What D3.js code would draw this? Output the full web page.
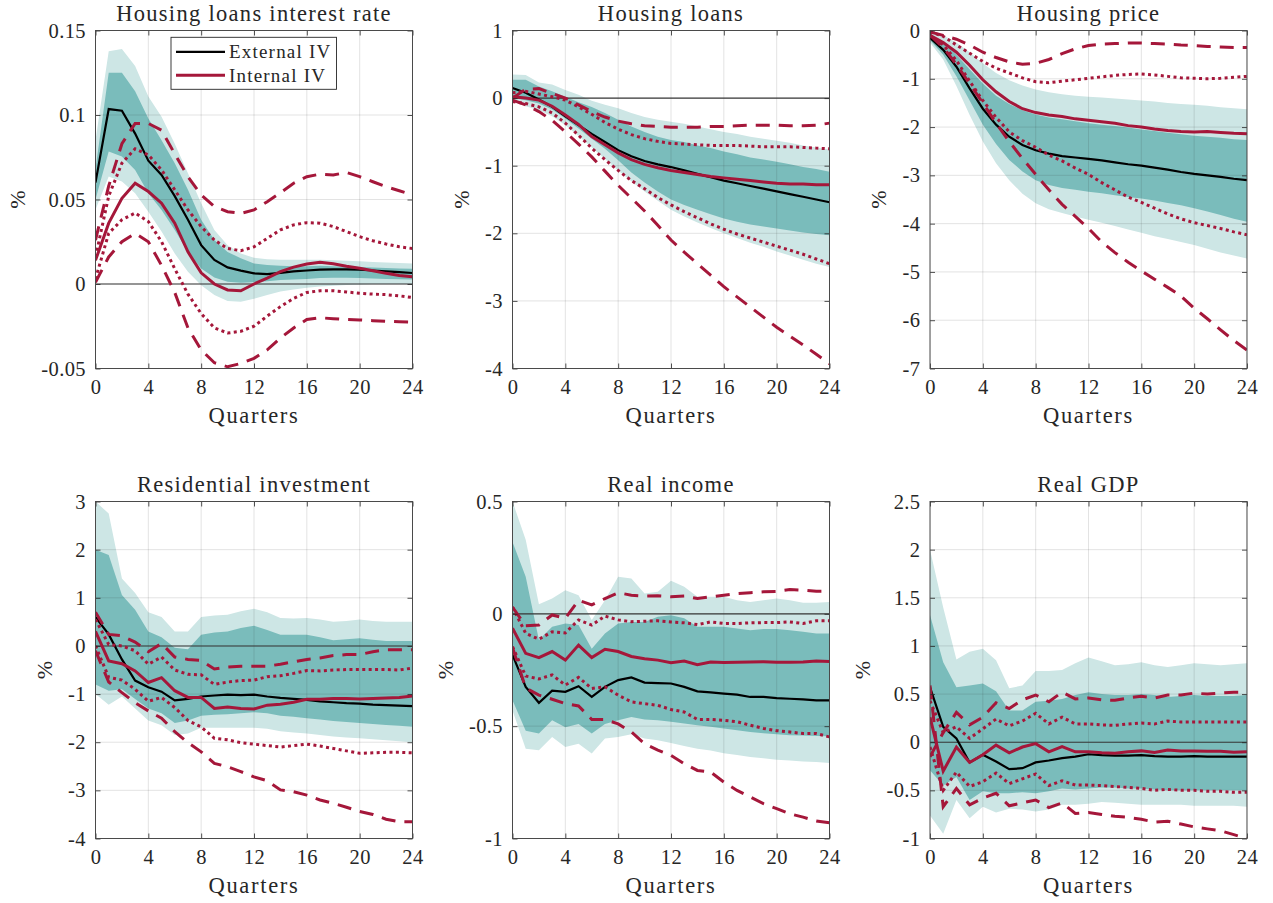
<!doctype html>
<html lang="en">
    <head>
        <meta charset="utf-8">
        <script src="https://d3js.org/d3.v7.min.js"></script>
        <title>External vs internal IV responses</title>
        <style>
            body { margin: 0; background: #fff; }
            text { font-family: "Liberation Serif", "Times New Roman", serif; fill: #262626; }
        </style>
    </head>
    <body>
        <div id="my_dataviz"></div>

        <script>
            // horizon
            var quarters = [0,1,2,3,4,5,6,7,8,9,10,11,12,13,14,15,16,17,18,19,20,21,22,23,24]
            var xTicks = [0,4,8,12,16,20,24]

            // Housing loans interest rate
            var rateExt = [0.060,0.1035,0.1025,0.089,0.073, 0.0645,0.052,0.038,0.023,0.0142, 0.0098,0.0079,0.0063,0.0059,0.0066, 0.0075,0.008,0.0085,0.0087,0.0087, 0.0085,0.008,0.0075,0.007,0.0065]
            var rateInt = [0.014,0.036,0.0507,0.0596,0.0547, 0.0478,0.036,0.019,0.0066,0.0, -0.0035,-0.004,0.0,0.0035,0.0073, 0.010,0.0118,0.0128,0.012,0.0105, 0.0093,0.0078,0.0063,0.005,0.0043]
            var rateDotHi = [0.016,0.052,0.0715,0.080,0.0764, 0.0675,0.0557,0.0438,0.034,0.026, 0.021,0.0197,0.022,0.027,0.032, 0.035,0.0363,0.036,0.034,0.031, 0.028,0.0256,0.0237,0.022,0.021]
            var rateDotLo = [0.003,0.030,0.038,0.042,0.037, 0.025,0.009,-0.006,-0.0175,-0.026, -0.029,-0.028,-0.025,-0.019,-0.0134, -0.0085,-0.005,-0.004,-0.004,-0.0047, -0.0055,-0.006,-0.0063,-0.007,-0.008]
            var rateDashHi = [0.026,0.058,0.083,0.095,0.095, 0.091,0.077,0.0635,0.0527,0.0458, 0.0428,0.0418,0.0438,0.0487,0.054, 0.0596,0.0635,0.065,0.0645,0.066, 0.0635,0.0605,0.0576,0.0552,0.0527]
            var rateDashLo = [0.001,0.016,0.025,0.030,0.025, 0.011,-0.005,-0.026,-0.039,-0.0466, -0.049,-0.047,-0.044,-0.039,-0.032, -0.026,-0.021,-0.020,-0.0205,-0.021, -0.0213,-0.0217,-0.022,-0.0223,-0.0225]
            var rateDarkHi = [0.068,0.125,0.125,0.114,0.098, 0.085,0.0715,0.0557,0.038,0.026, 0.019,0.0152,0.0122,0.0112,0.0108, 0.0105,0.0105,0.0108,0.0105,0.0102, 0.0100,0.0098,0.0095,0.0092,0.009]
            var rateDarkLo = [0.050,0.0784,0.0754,0.0675,0.0537, 0.0438,0.032,0.019,0.0092,0.0039, 0.0013,0.0007,0.001,0.0017,0.0023, 0.0027,0.003,0.0035,0.0037,0.0037, 0.0035,0.0033,0.003,0.0028,0.0027]
            var rateLightHi = [0.085,0.1377,0.139,0.129,0.111, 0.099,0.083,0.0656,0.0478,0.032, 0.023,0.018,0.0156,0.0146,0.0143, 0.0143,0.0143,0.0143,0.014,0.0138, 0.0135,0.013,0.0127,0.0124,0.0122]
            var rateLightLo = [0.044,0.0636,0.0606,0.0537,0.0428, 0.031,0.018,0.0073,-0.0007,-0.0065, -0.010,-0.0105,-0.0088,-0.0065,-0.0045, -0.0032,-0.0022,-0.0015,-0.001,-0.0006, -0.0003,0,0,0,0]

            // Housing loans
            var loansExt = [0.15,0.08,-0.02,-0.13,-0.27, -0.40,-0.53,-0.65,-0.77,-0.86, -0.93,-0.98,-1.02,-1.07,-1.12, -1.17,-1.22,-1.26,-1.30,-1.34, -1.38,-1.42,-1.46,-1.50,-1.54]
            var loansInt = [0.02,0.0,-0.03,-0.12,-0.25, -0.39,-0.57,-0.69,-0.81,-0.91, -0.98,-1.03,-1.07,-1.10,-1.13, -1.16,-1.18,-1.20,-1.22,-1.24, -1.26,-1.27,-1.27,-1.28,-1.28]
            var loansDotHi = [0.08,0.10,0.06,0.02,-0.03, -0.13,-0.24,-0.36,-0.46,-0.54, -0.60,-0.64,-0.67,-0.68,-0.69, -0.70,-0.70,-0.70,-0.71,-0.72, -0.72,-0.72,-0.73,-0.74,-0.75]
            var loansDotLo = [-0.05,-0.08,-0.13,-0.22,-0.37, -0.55,-0.74,-0.91,-1.07,-1.22, -1.34,-1.47,-1.58,-1.68,-1.77, -1.86,-1.94,-2.01,-2.07,-2.13, -2.19,-2.25,-2.31,-2.38,-2.45]
            var loansDashHi = [0.0,0.13,0.14,0.07,0.0, -0.10,-0.20,-0.28,-0.34,-0.38, -0.41,-0.42,-0.43,-0.43,-0.43, -0.42,-0.42,-0.41,-0.40,-0.40, -0.40,-0.41,-0.41,-0.40,-0.37]
            var loansDashLo = [-0.03,-0.10,-0.20,-0.33,-0.50, -0.68,-0.87,-1.08,-1.29,-1.48, -1.67,-1.88,-2.10,-2.28,-2.45, -2.62,-2.79,-2.94,-3.09,-3.24, -3.39,-3.52,-3.65,-3.79,-3.93]
            var loansDarkHi = [0.27,0.27,0.17,0.10,0.02, -0.06,-0.13,-0.22,-0.32,-0.42, -0.50,-0.57,-0.62,-0.65,-0.70, -0.74,-0.79,-0.83,-0.88,-0.91, -0.94,-0.98,-1.02,-1.05,-1.09]
            var loansDarkLo = [0.0,-0.03,-0.08,-0.17,-0.30, -0.45,-0.60,-0.75,-0.92,-1.10, -1.25,-1.38,-1.50,-1.58,-1.65, -1.72,-1.78,-1.83,-1.87,-1.90, -1.93,-1.96,-1.99,-2.01,-2.03]
            var loansLightHi = [0.35,0.34,0.23,0.20,0.12, 0.05,-0.04,-0.10,-0.15,-0.22, -0.28,-0.32,-0.35,-0.38,-0.42, -0.46,-0.50,-0.53,-0.57,-0.60, -0.63,-0.66,-0.70,-0.73,-0.76]
            var loansLightLo = [-0.05,-0.12,-0.18,-0.27,-0.40, -0.56,-0.73,-0.90,-1.07,-1.23, -1.38,-1.52,-1.65,-1.75,-1.84, -1.92,-2.00,-2.07,-2.14,-2.20, -2.27,-2.33,-2.39,-2.45,-2.50]

            // Housing price
            var priceExt = [-0.15,-0.40,-0.75,-1.20,-1.62, -1.95,-2.20,-2.37,-2.48,-2.55, -2.60,-2.63,-2.66,-2.69,-2.73, -2.77,-2.80,-2.84,-2.88,-2.93, -2.97,-3.00,-3.03,-3.07,-3.10]
            var priceInt = [-0.10,-0.25,-0.45,-0.72,-1.02, -1.27,-1.47,-1.62,-1.70,-1.75, -1.78,-1.83,-1.86,-1.89,-1.92, -1.97,-2.00,-2.04,-2.07,-2.09, -2.10,-2.09,-2.11,-2.13,-2.14]
            var priceDotHi = [-0.03,-0.12,-0.30,-0.47,-0.64, -0.78,-0.88,-0.98,-1.06,-1.08, -1.05,-1.02,-0.99,-0.96,-0.93, -0.91,-0.90,-0.92,-0.95,-0.98, -0.99,-1.00,-0.99,-0.97,-0.95]
            var priceDotLo = [-0.10,-0.30,-0.62,-1.05,-1.45, -1.80,-2.10,-2.28,-2.42,-2.58, -2.70,-2.85,-2.98,-3.15,-3.30, -3.45,-3.56,-3.68,-3.80,-3.90, -3.98,-4.04,-4.10,-4.17,-4.23]
            var priceDashHi = [-0.03,-0.10,-0.18,-0.30,-0.45, -0.56,-0.65,-0.70,-0.68,-0.60, -0.48,-0.38,-0.31,-0.28,-0.27, -0.26,-0.26,-0.27,-0.28,-0.30, -0.31,-0.33,-0.34,-0.35,-0.35]
            var priceDashLo = [-0.10,-0.35,-0.70,-1.10,-1.50, -1.92,-2.30,-2.65,-2.98,-3.30, -3.60,-3.85,-4.10,-4.38,-4.60, -4.80,-4.98,-5.15,-5.32,-5.50, -5.75,-5.97,-6.20,-6.42,-6.62]
            var priceDarkHi = [-0.10,-0.25,-0.50,-0.80,-1.10, -1.35,-1.52,-1.65,-1.74,-1.80, -1.84,-1.88,-1.92,-1.95,-1.98, -2.01,-2.05,-2.08,-2.12,-2.15, -2.18,-2.20,-2.22,-2.25,-2.27]
            var priceDarkLo = [-0.20,-0.50,-0.95,-1.45,-1.95, -2.35,-2.68,-2.92,-3.10,-3.20, -3.26,-3.30,-3.34,-3.37,-3.41, -3.45,-3.48,-3.52,-3.57,-3.62, -3.68,-3.75,-3.82,-3.90,-3.96]
            var priceLightHi = [-0.02,-0.10,-0.25,-0.45,-0.68, -0.88,-1.03,-1.14,-1.22,-1.28, -1.32,-1.35,-1.37,-1.39,-1.41, -1.43,-1.45,-1.47,-1.50,-1.52, -1.54,-1.56,-1.59,-1.61,-1.63]
            var priceLightLo = [-0.25,-0.60,-1.15,-1.75,-2.30, -2.75,-3.10,-3.38,-3.58,-3.70, -3.78,-3.85,-3.92,-3.98,-4.05, -4.12,-4.19,-4.26,-4.32,-4.38, -4.44,-4.52,-4.60,-4.66,-4.72]

            // Residential investment
            var resExt = [0.60,0.24,-0.28,-0.72,-0.86, -0.95,-1.13,-1.10,-1.05,-1.03, -1.01,-1.02,-1.01,-1.05,-1.08, -1.10,-1.12,-1.15,-1.17,-1.19, -1.20,-1.22,-1.23,-1.24,-1.25]
            var resInt = [0.30,-0.31,-0.37,-0.52,-0.76, -0.66,-0.93,-1.07,-1.07,-1.30, -1.27,-1.30,-1.31,-1.23,-1.21, -1.17,-1.11,-1.11,-1.09,-1.09, -1.10,-1.09,-1.08,-1.07,-1.04]
            var resDotHi = [0.55,0.03,0.0,-0.10,-0.38, -0.23,-0.50,-0.59,-0.60,-0.80, -0.75,-0.72,-0.71,-0.64,-0.62, -0.57,-0.51,-0.52,-0.50,-0.49, -0.49,-0.49,-0.49,-0.50,-0.46]
            var resDotLo = [0.0,-0.65,-0.71,-0.90,-1.15, -1.07,-1.28,-1.55,-1.68,-1.92, -1.95,-2.01,-2.04,-2.07,-2.10, -2.07,-2.04,-2.08,-2.13,-2.18, -2.23,-2.22,-2.21,-2.21,-2.22]
            var resDashHi = [0.70,0.24,0.21,0.08,-0.12, 0.05,-0.23,-0.28,-0.30,-0.48, -0.44,-0.42,-0.42,-0.42,-0.38, -0.33,-0.28,-0.25,-0.20,-0.18, -0.18,-0.12,-0.08,-0.08,-0.08]
            var resDashLo = [-0.10,-0.75,-0.97,-1.18,-1.35, -1.50,-1.78,-2.01,-2.20,-2.44, -2.51,-2.61,-2.72,-2.80,-2.99, -3.03,-3.10,-3.20,-3.27,-3.35, -3.44,-3.50,-3.60,-3.65,-3.65]
            var resDarkHi = [2.00,1.89,1.06,0.75,0.30, 0.18,-0.04,-0.07,0.23,0.28, 0.30,0.37,0.42,0.33,0.23, 0.23,0.23,0.18,0.12,0.14, 0.16,0.13,0.10,0.10,0.10]
            var resDarkLo = [-0.80,-0.93,-0.90,-1.10,-1.30, -1.40,-1.60,-1.55,-1.45,-1.43, -1.42,-1.40,-1.38,-1.40,-1.45, -1.47,-1.50,-1.53,-1.56,-1.58, -1.60,-1.62,-1.64,-1.66,-1.68]
            var resLightHi = [3.00,2.75,1.40,1.10,0.70, 0.60,0.30,0.30,0.60,0.63, 0.65,0.72,0.77,0.70,0.58, 0.57,0.58,0.55,0.50,0.52, 0.55,0.52,0.50,0.50,0.50]
            var resLightLo = [-1.00,-1.22,-1.05,-1.30,-1.55, -1.65,-1.85,-1.82,-1.70,-1.70, -1.70,-1.70,-1.70,-1.72,-1.77, -1.80,-1.82,-1.85,-1.88,-1.90, -1.92,-1.94,-1.96,-1.98,-2.00]

            // Real income
            var incExt = [-0.183,-0.325,-0.396,-0.342,-0.347, -0.322,-0.370,-0.325,-0.295,-0.283, -0.306,-0.308,-0.310,-0.325,-0.345, -0.350,-0.355,-0.360,-0.370,-0.370, -0.375,-0.378,-0.381,-0.385,-0.385]
            var incInt = [-0.064,-0.176,-0.195,-0.168,-0.206, -0.139,-0.195,-0.158,-0.168,-0.190, -0.200,-0.206,-0.218,-0.210,-0.226, -0.214,-0.217,-0.216,-0.214,-0.213, -0.216,-0.216,-0.214,-0.210,-0.212]
            var incDotHi = [0.030,-0.087,-0.113,-0.080,-0.085, -0.027,-0.050,-0.010,-0.027,-0.035, -0.033,-0.031,-0.036,-0.040,-0.048, -0.036,-0.043,-0.043,-0.040,-0.039, -0.039,-0.036,-0.043,-0.031,-0.031]
            var incDotLo = [-0.146,-0.277,-0.290,-0.272,-0.317, -0.283,-0.332,-0.325,-0.362,-0.392, -0.400,-0.407,-0.426,-0.437,-0.470, -0.470,-0.474,-0.480,-0.496,-0.510, -0.520,-0.526,-0.533,-0.533,-0.548]
            var incDashHi = [0.030,-0.053,-0.050,-0.005,-0.020, 0.060,0.040,0.068,0.094,0.083, 0.079,0.080,0.076,0.079,0.068, 0.076,0.083,0.090,0.094,0.098, 0.100,0.108,0.105,0.100,0.100]
            var incDashLo = [-0.150,-0.330,-0.362,-0.380,-0.400, -0.410,-0.470,-0.470,-0.490,-0.526, -0.578,-0.607,-0.630,-0.667,-0.697, -0.704,-0.749,-0.786,-0.815,-0.845, -0.867,-0.890,-0.905,-0.922,-0.930]
            var incDarkHi = [0.320,0.165,-0.117,-0.058,-0.043, -0.050,-0.155,-0.088,-0.043,-0.036, -0.036,-0.013,-0.006,-0.020,-0.058, -0.058,-0.058,-0.065,-0.073,-0.068, -0.068,-0.073,-0.080,-0.088,-0.088]
            var incDarkLo = [-0.385,-0.520,-0.533,-0.474,-0.505, -0.490,-0.533,-0.490,-0.474,-0.459, -0.470,-0.474,-0.480,-0.488,-0.496, -0.503,-0.510,-0.518,-0.526,-0.531, -0.536,-0.540,-0.542,-0.544,-0.545]
            var incLightHi = [0.500,0.330,0.043,0.068,0.105, 0.083,-0.028,0.060,0.165,0.157, 0.090,0.098,0.147,0.120,0.076, 0.076,0.076,0.060,0.053,0.060, 0.068,0.060,0.049,0.049,0.053]
            var incLightLo = [-0.430,-0.600,-0.607,-0.548,-0.593, -0.578,-0.622,-0.555,-0.548,-0.536, -0.555,-0.563,-0.575,-0.588,-0.600, -0.608,-0.620,-0.628,-0.637,-0.643, -0.649,-0.653,-0.657,-0.660,-0.664]

            // Real GDP
            var gdpExt = [0.57,0.16,0.04,-0.21,-0.13, -0.20,-0.28,-0.27,-0.21,-0.19, -0.165,-0.15,-0.125,-0.135,-0.14, -0.14,-0.135,-0.145,-0.15,-0.15, -0.145,-0.15,-0.15,-0.15,-0.15]
            var gdpInt = [0.26,-0.30,-0.05,-0.21,-0.13, -0.03,-0.11,-0.05,-0.015,-0.10, -0.045,-0.10,-0.10,-0.11,-0.115, -0.10,-0.09,-0.107,-0.08,-0.09, -0.09,-0.093,-0.095,-0.105,-0.10]
            var gdpDotHi = [0.43,0.10,0.16,0.04,0.14, 0.24,0.17,0.22,0.30,0.19, 0.26,0.19,0.19,0.18,0.175, 0.19,0.20,0.19,0.22,0.21, 0.21,0.21,0.21,0.21,0.21]
            var gdpDotLo = [-0.05,-0.50,-0.31,-0.46,-0.41, -0.32,-0.43,-0.38,-0.33,-0.45, -0.40,-0.445,-0.445,-0.45,-0.46, -0.47,-0.48,-0.50,-0.49,-0.50, -0.50,-0.51,-0.51,-0.52,-0.52]
            var gdpDashHi = [-0.15,0.10,0.31,0.18,0.26, 0.41,0.35,0.44,0.49,0.42, 0.52,0.45,0.46,0.44,0.435, 0.46,0.477,0.46,0.49,0.49, 0.51,0.50,0.51,0.52,0.52]
            var gdpDashLo = [0.59,-0.67,-0.48,-0.65,-0.58, -0.53,-0.66,-0.63,-0.60,-0.68, -0.63,-0.74,-0.73,-0.75,-0.77, -0.78,-0.80,-0.83,-0.82,-0.85, -0.88,-0.90,-0.92,-0.96,-1.00]
            var gdpDarkHi = [1.32,0.83,0.57,0.59,0.61, 0.53,0.33,0.33,0.42,0.43, 0.45,0.49,0.52,0.50,0.49, 0.49,0.50,0.49,0.47,0.48, 0.49,0.48,0.48,0.48,0.49]
            var gdpDarkLo = [-0.29,-0.45,-0.36,-0.60,-0.51, -0.53,-0.53,-0.52,-0.53,-0.51, -0.48,-0.49,-0.48,-0.47,-0.47, -0.48,-0.48,-0.49,-0.50,-0.50, -0.50,-0.50,-0.50,-0.50,-0.50]
            var gdpLightHi = [2.00,1.40,0.86,0.94,0.97, 0.85,0.56,0.59,0.74,0.74, 0.75,0.82,0.88,0.84,0.80, 0.81,0.83,0.80,0.78,0.80, 0.82,0.81,0.80,0.81,0.82]
            var gdpLightLo = [-0.76,-0.95,-0.60,-0.79,-0.67, -0.73,-0.69,-0.70,-0.72,-0.70, -0.65,-0.65,-0.64,-0.62,-0.63, -0.64,-0.65,-0.65,-0.65,-0.65, -0.66,-0.66,-0.66,-0.66,-0.67]

            // y ticks per panel
            var rateTicks = [-0.05,0,0.05,0.1,0.15]
            var loansTicks = [-4,-3,-2,-1,0,1]
            var priceTicks = [-7,-6,-5,-4,-3,-2,-1,0]
            var resTicks = [-4,-3,-2,-1,0,1,2,3]
            var incTicks = [-1,-0.5,0,0.5]
            var gdpTicks = [-1,-0.5,0,0.5,1,1.5,2,2.5]

            var legendLabels = ["External IV", "Internal IV"]

            var panels = [
                {title: "Housing loans interest rate", ticks: rateTicks, ext: rateExt, int: rateInt, dotHi: rateDotHi, dotLo: rateDotLo, dashHi: rateDashHi, dashLo: rateDashLo, darkHi: rateDarkHi, darkLo: rateDarkLo, lightHi: rateLightHi, lightLo: rateLightLo},
                {title: "Housing loans", ticks: loansTicks, ext: loansExt, int: loansInt, dotHi: loansDotHi, dotLo: loansDotLo, dashHi: loansDashHi, dashLo: loansDashLo, darkHi: loansDarkHi, darkLo: loansDarkLo, lightHi: loansLightHi, lightLo: loansLightLo},
                {title: "Housing price", ticks: priceTicks, ext: priceExt, int: priceInt, dotHi: priceDotHi, dotLo: priceDotLo, dashHi: priceDashHi, dashLo: priceDashLo, darkHi: priceDarkHi, darkLo: priceDarkLo, lightHi: priceLightHi, lightLo: priceLightLo},
                {title: "Residential investment", ticks: resTicks, ext: resExt, int: resInt, dotHi: resDotHi, dotLo: resDotLo, dashHi: resDashHi, dashLo: resDashLo, darkHi: resDarkHi, darkLo: resDarkLo, lightHi: resLightHi, lightLo: resLightLo},
                {title: "Real income", ticks: incTicks, ext: incExt, int: incInt, dotHi: incDotHi, dotLo: incDotLo, dashHi: incDashHi, dashLo: incDashLo, darkHi: incDarkHi, darkLo: incDarkLo, lightHi: incLightHi, lightLo: incLightLo},
                {title: "Real GDP", ticks: gdpTicks, ext: gdpExt, int: gdpInt, dotHi: gdpDotHi, dotLo: gdpDotLo, dashHi: gdpDashHi, dashLo: gdpDashLo, darkHi: gdpDarkHi, darkLo: gdpDarkLo, lightHi: gdpLightHi, lightLo: gdpLightLo}
            ]

            // layout of the 2x3 grid
            var colLeft = [95.5, 512.5, 930]
            var rowTop = [30.5, 501.5]
            var plotW = 317
            var plotH = [338, 337]

            var red = "#a5173a"
            var lightTeal = "#cde6e5"
            var darkTeal = "#7abcbb"
            var axisColor = "#262626"

            var svg = d3.select("#my_dataviz")
                .append("svg")
                .attr("width", 1273)
                .attr("height", 903)

            panels.forEach(function(p, i) {
                var col = i % 3
                var row = Math.floor(i / 3)
                var h = plotH[row]

                var x = d3.scaleLinear().domain([0, 24]).range([0, plotW])
                var y = d3.scaleLinear()
                    .domain([p.ticks[0], p.ticks[p.ticks.length - 1]])
                    .range([h, 0])

                var g = svg.append("g")
                    .attr("transform", "translate(" + colLeft[col] + "," + rowTop[row] + ")")

                g.append("clipPath").attr("id", "clip" + i)
                    .append("rect").attr("width", plotW).attr("height", h)

                var plot = g.append("g").attr("clip-path", "url(#clip" + i + ")")

                // confidence bands
                var band = d3.area()
                    .x(function(d, j) { return x(quarters[j]) })
                    .y0(function(d) { return y(d[0]) })
                    .y1(function(d) { return y(d[1]) })

                plot.append("path")
                    .attr("d", band(d3.zip(p.lightLo, p.lightHi)))
                    .attr("fill", lightTeal)
                plot.append("path")
                    .attr("d", band(d3.zip(p.darkLo, p.darkHi)))
                    .attr("fill", darkTeal)

                // grid on top of the shaded bands (they are see-through in the original)
                plot.selectAll(".vgrid").data(xTicks).enter().append("line")
                    .attr("x1", function(d) { return x(d) }).attr("x2", function(d) { return x(d) })
                    .attr("y1", 0).attr("y2", h)
                    .attr("stroke", "rgba(38,38,38,0.13)").attr("stroke-width", 1)
                plot.selectAll(".hgrid").data(p.ticks).enter().append("line")
                    .attr("x1", 0).attr("x2", plotW)
                    .attr("y1", function(d) { return y(d) }).attr("y2", function(d) { return y(d) })
                    .attr("stroke", "rgba(38,38,38,0.13)").attr("stroke-width", 1)

                // zero line
                plot.append("line")
                    .attr("x1", 0).attr("x2", plotW)
                    .attr("y1", y(0)).attr("y2", y(0))
                    .attr("stroke", "#3a3a3a").attr("stroke-width", 1.1)

                var line = d3.line()
                    .x(function(d, j) { return x(quarters[j]) })
                    .y(function(d) { return y(d) })

                // external IV point estimate
                plot.append("path").attr("d", line(p.ext))
                    .attr("fill", "none").attr("stroke", "#000").attr("stroke-width", 2.2)

                // internal IV: estimate, dotted and dashed intervals
                ;[p.dashHi, p.dashLo].forEach(function(s) {
                    plot.append("path").attr("d", line(s))
                        .attr("fill", "none").attr("stroke", red).attr("stroke-width", 3)
                        .attr("stroke-dasharray", "14,9")
                })
                ;[p.dotHi, p.dotLo].forEach(function(s) {
                    plot.append("path").attr("d", line(s))
                        .attr("fill", "none").attr("stroke", red).attr("stroke-width", 3)
                        .attr("stroke-dasharray", "3,3.4")
                })
                plot.append("path").attr("d", line(p.int))
                    .attr("fill", "none").attr("stroke", red).attr("stroke-width", 3)

                // axes: ticks point inward on all four sides
                var left = g.append("g")
                    .call(d3.axisLeft(y).tickValues(p.ticks).tickSizeInner(-5).tickSizeOuter(0).tickPadding(9.5)
                        .tickFormat(function(d) { return String(d) }))
                var bottom = g.append("g").attr("transform", "translate(0," + h + ")")
                    .call(d3.axisBottom(x).tickValues(xTicks).tickSizeInner(-5).tickSizeOuter(0).tickPadding(10.5))
                g.append("g").attr("transform", "translate(" + plotW + ",0)")
                    .call(d3.axisRight(y).tickValues(p.ticks).tickSizeInner(-5).tickSizeOuter(0).tickFormat(""))
                g.append("g")
                    .call(d3.axisTop(x).tickValues(xTicks).tickSizeInner(-5).tickSizeOuter(0).tickFormat(""))

                g.selectAll(".domain").remove()
                g.selectAll(".tick line").attr("stroke", axisColor).attr("stroke-width", 0.8)
                g.selectAll(".tick text")
                    .style("font-size", "20.5px")
                    .style("letter-spacing", "0.4px")
                    .attr("fill", axisColor)

                // box
                g.append("rect")
                    .attr("width", plotW).attr("height", h)
                    .attr("fill", "none").attr("stroke", "#4a4a4a").attr("stroke-width", 1)

                // title and axis labels
                g.append("text")
                    .attr("x", plotW / 2).attr("y", -10)
                    .attr("text-anchor", "middle")
                    .style("font-size", "22.5px").style("letter-spacing", "1.3px")
                    .text(p.title)

                g.append("text")
                    .attr("x", plotW / 2).attr("y", h + 54)
                    .attr("text-anchor", "middle")
                    .style("font-size", "22.5px").style("letter-spacing", "1.7px")
                    .text("Quarters")

                var widest = d3.max(left.selectAll(".tick text").nodes(), function(n) { return n.getComputedTextLength() })
                var labX = -9.5 - widest - 24
                g.append("text")
                    .attr("transform", "translate(" + labX + "," + (h / 2) + ") rotate(-90)")
                    .attr("text-anchor", "middle")
                    .attr("dy", "0.35em")
                    .style("font-size", "22px")
                    .text("%")

                // legend lives only in the first panel
                if (i === 0) {
                    var leg = g.append("g").attr("transform", "translate(75.5,6.8)")
                    leg.append("rect")
                        .attr("width", 165.5).attr("height", 52)
                        .attr("fill", "#fff").attr("stroke", axisColor).attr("stroke-width", 0.9)
                    var legColors = ["#000", red]
                    legendLabels.forEach(function(lab, k) {
                        var ly = 14.5 + k * 23.5
                        leg.append("line")
                            .attr("x1", 5).attr("x2", 54).attr("y1", ly).attr("y2", ly)
                            .attr("stroke", legColors[k]).attr("stroke-width", k === 0 ? 2.2 : 3)
                        leg.append("text")
                            .attr("x", 58).attr("y", ly).attr("dy", "0.35em")
                            .style("font-size", "19px").style("letter-spacing", "1.2px")
                            .text(lab)
                    })
                }
            })
        </script>
    </body>
</html>
